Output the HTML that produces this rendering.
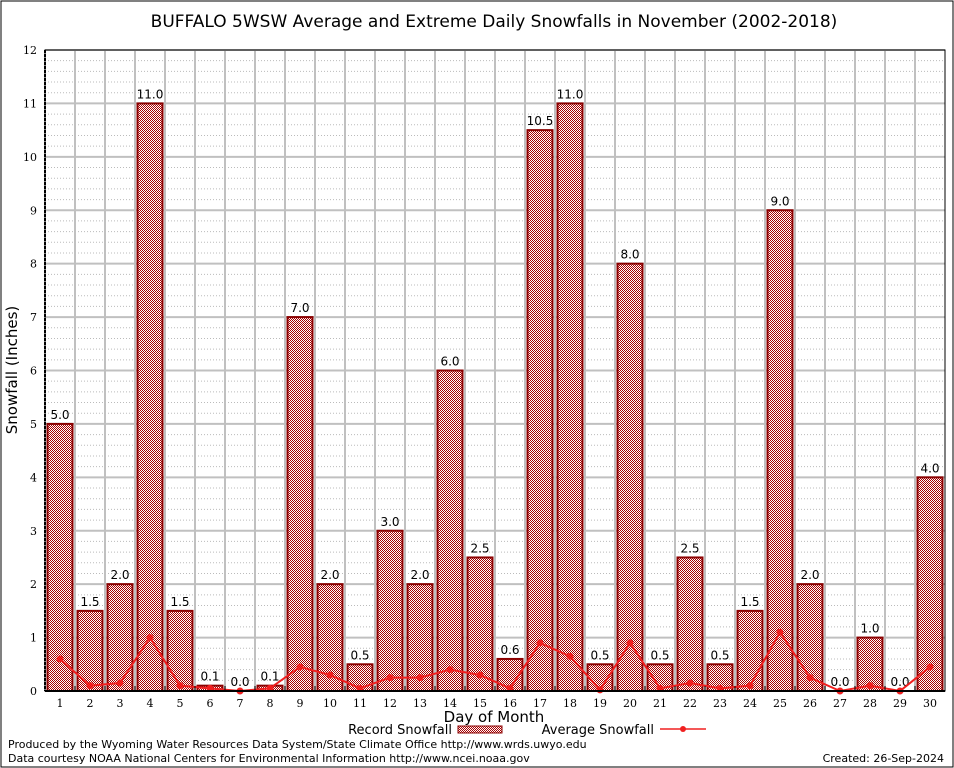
<!DOCTYPE html>
<html><head><meta charset="utf-8"><style>
html,body{margin:0;padding:0;background:#fff;}
svg{display:block;font-family:"DejaVu Sans","Liberation Sans",sans-serif;}
</style></head><body>
<svg id="c" width="954" height="768" viewBox="0 0 954 768">
<defs>
<pattern id="chk" width="2" height="2" patternUnits="userSpaceOnUse">
<rect width="2" height="2" fill="#fff"/>
<rect x="0" y="0" width="1" height="1" fill="#a80000"/>
<rect x="1" y="1" width="1" height="1" fill="#a80000"/>
</pattern>
</defs>
<rect x="1" y="1" width="952" height="766" fill="#fff" stroke="#000" stroke-width="1"/>
<text x="494" y="27" font-size="17" text-anchor="middle">BUFFALO 5WSW Average and Extreme Daily Snowfalls in November (2002-2018)</text>
<g id="grid"></g>
<g id="bars"></g>
<g id="line"></g>
<g id="axes"></g>
<text transform="translate(17,370) rotate(-90)" font-size="15" text-anchor="middle">Snowfall (Inches)</text>
<text x="494" y="722" font-size="15" text-anchor="middle">Day of Month</text>
<g>
<text x="452" y="734" font-size="13" text-anchor="end">Record Snowfall</text>
<rect x="458" y="726" width="44" height="7" fill="url(#chk)" stroke="#8b0000"/>
<text x="654" y="734" font-size="13" text-anchor="end">Average Snowfall</text>
<line x1="660" y1="729" x2="706" y2="729" stroke="#f02020" stroke-width="1.5"/>
<circle cx="683" cy="729" r="3" fill="#f02020"/>
</g>
<text x="8" y="748" font-size="11">Produced by the Wyoming Water Resources Data System/State Climate Office http://www.wrds.uwyo.edu</text>
<text x="8" y="762" font-size="11">Data courtesy NOAA National Centers for Environmental Information http://www.ncei.noaa.gov</text>
<text x="944" y="762" font-size="11" text-anchor="end">Created:  26-Sep-2024</text>
</svg>
<script>
const days=[1,2,3,4,5,6,7,8,9,10,11,12,13,14,15,16,17,18,19,20,21,22,23,24,25,26,27,28,29,30];
const recordSnow=[5.0,1.5,2.0,11.0,1.5,0.1,0.0,0.1,7.0,2.0,0.5,3.0,2.0,6.0,2.5,0.6,10.5,11.0,0.5,8.0,0.5,2.5,0.5,1.5,9.0,2.0,0.0,1.0,0.0,4.0];
const avgSnow=[0.6,0.1,0.15,1.0,0.1,0.05,0.0,0.05,0.45,0.3,0.05,0.25,0.25,0.4,0.3,0.05,0.9,0.65,0.02,0.9,0.05,0.15,0.05,0.1,1.1,0.25,0.0,0.1,0.0,0.45];
const yTicks=[0,1,2,3,4,5,6,7,8,9,10,11,12];
const NS='http://www.w3.org/2000/svg';
const L=45,R=945,T=50,B=691,yMax=12;
const x=d=>L+(d-0.5)*(R-L)/30;
const y=v=>B-v/yMax*(B-T);
function mk(tag,at,parent){const e=document.createElementNS(NS,tag);for(const k in at)e.setAttribute(k,at[k]);parent.appendChild(e);return e;}
const g=document.getElementById('grid'),bg=document.getElementById('bars'),lg=document.getElementById('line'),ax=document.getElementById('axes');
for(let v=0;v<yMax;v+=0.2){if(Math.abs(v-Math.round(v))<1e-6)continue;const e=mk('line',{x1:L,x2:R,y1:y(v),y2:y(v),stroke:'#bbb','stroke-dasharray':'1,2','stroke-width':1},g);

}
for(let d=1;d<30;d++){const xx=L+d*(R-L)/30;const e=mk('line',{x1:xx,x2:xx,y1:T,y2:B,stroke:'#c0c0c0','stroke-width':2},g);

}
yTicks.forEach(v=>{const e=mk('line',{x1:L,x2:R,y1:y(v),y2:y(v),stroke:'#c0c0c0','stroke-width':2},g);


const t=mk('text',{x:L-8,y:y(v)+4,'font-size':11,'text-anchor':'end','font-family':'DejaVu Serif,Liberation Serif,serif'},ax);t.textContent=v;

});
days.forEach((d,i)=>{const v=recordSnow[i];const bw=25;
if(v>0){const r=mk('rect',{x:x(d)-bw/2,y:y(v),width:bw,height:B-y(v),fill:'url(#chk)',stroke:'#8b0000','stroke-width':2},bg);

}
const t=mk('text',{x:x(d),y:y(v)-5,'font-size':12,'text-anchor':'middle'},bg);t.textContent=v.toFixed(1);


const tl=mk('text',{x:x(d),y:B+16,'font-size':11,'text-anchor':'middle','font-family':'DejaVu Serif,Liberation Serif,serif'},ax);tl.textContent=d;


const tk=mk('line',{x1:L+(d)*(R-L)/30,x2:L+(d)*(R-L)/30,y1:B,y2:B-5,stroke:'#000'},ax);

});
const pts=days.map((d,i)=>x(d)+','+y(avgSnow[i])).join(' ');
const pl=mk('polyline',{points:pts,fill:'none',stroke:'#f02020','stroke-width':2},lg);


days.forEach((d,i)=>{const c=mk('circle',{cx:x(d),cy:y(avgSnow[i]),r:3.5,fill:'#f02020'},lg);

});
const fr=mk('rect',{x:L,y:T,width:R-L,height:B-T,fill:'none',stroke:'#000','stroke-width':1},ax);


const xa=mk('line',{x1:L,x2:R,y1:B,y2:B,stroke:'#000','stroke-width':2},ax);


const ya=mk('line',{x1:L,x2:L,y1:T,y2:B,stroke:'#000','stroke-width':2,'stroke-dasharray':'3,1'},ax);


</script>
</body></html>
